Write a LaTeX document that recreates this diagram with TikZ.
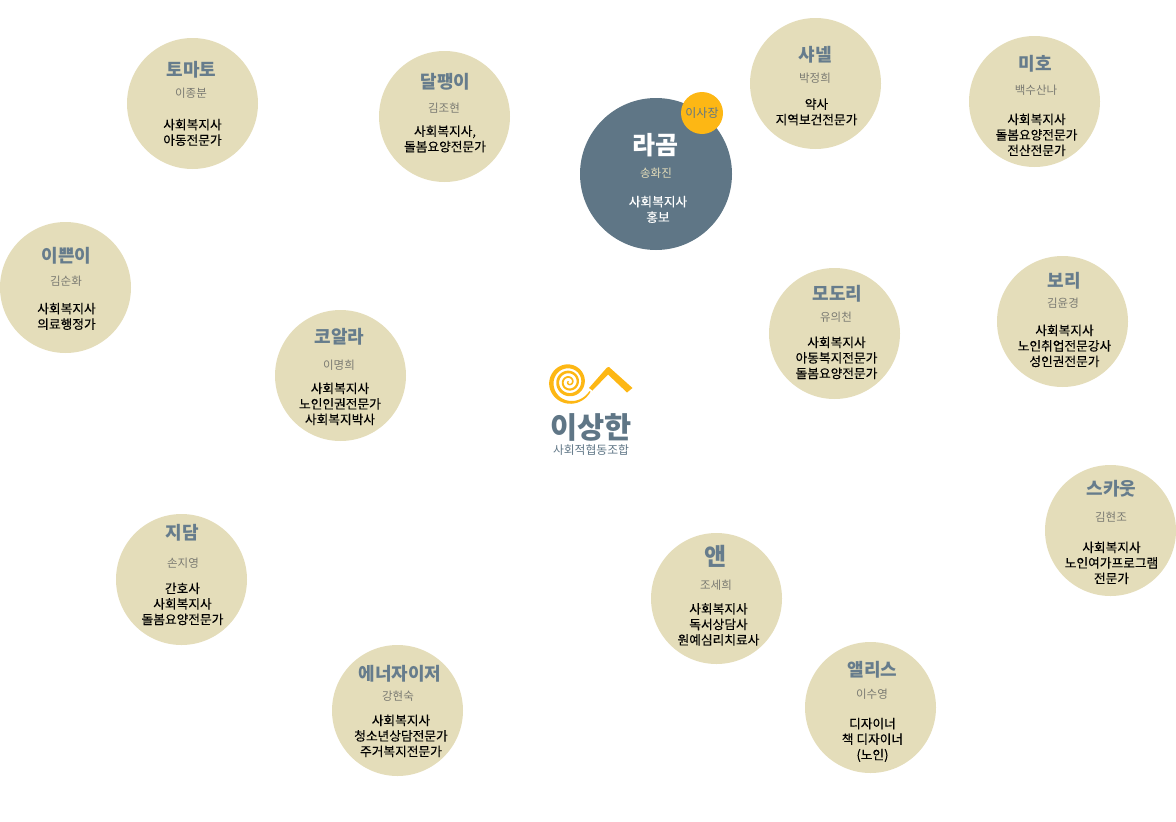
\documentclass[tikz,border=0pt]{standalone}
\usepackage{fontspec}
\setmainfont{Noto Sans CJK KR}
\newfontfamily\rolefont[FakeBold=0.25]{Noto Sans CJK KR}
\definecolor{circlefill}{HTML}{E4DDBA}
\definecolor{slate}{HTML}{5F7686}
\definecolor{nickslate}{HTML}{667C8C}
\definecolor{sunny}{HTML}{FDB714}
\definecolor{realgray}{HTML}{7A7A72}
\tikzset{
  member/.style={circle,fill=circlefill,minimum size=131pt,inner sep=0pt},
  nick/.style={text=nickslate,font=\fontsize{18}{20}\selectfont\bfseries,inner sep=0pt,xshift=1.5pt,yshift=-1pt},
  realname/.style={text=realgray,font=\fontsize{11.5}{13}\selectfont,inner sep=0pt,yshift=-1pt},
  role/.style={text=black,font=\fontsize{12.7}{15.5}\rolefont\selectfont,align=center,inner sep=0pt,yshift=-0.4pt}
}
\begin{document}
\begin{tikzpicture}[x=1pt,y=-1pt,
    declare function={sr(\t)=18.5*(\t/23)+4.5*(\t/23)^10; sa(\t)=24+(23-\t)*57.3;
      sw(\t)=(1.5+3.7*(\t/23)^2)*min(1,(1-\t/23)*7+0.25);}]
  \useasboundingbox (0,0) rectangle (1176,822);

  % Chair
  \node[circle,fill=slate,minimum size=152pt,inner sep=0pt] (lagom) at (656,174) {};
  \node[circle,fill=sunny,minimum size=42pt,inner sep=0pt] (chair) at (702,113) {};
  \node[text=slate,font=\fontsize{12}{14}\selectfont,inner sep=0pt] (chairtxt) at (702,113.5) {이사장};
  \node[nick,text=white,font=\fontsize{25}{28}\selectfont\bfseries] (lagomnick) at (654,144) {라곰};
  \node[realname,text=circlefill] (lagomreal) at (656,172) {송화진};
  \node[role,text=white] (lagomrole) at (658,209) {사회복지사\\홍보};

  % Members
  \node[member] (tomato) at (192.5,103.5) {};
  \node[nick] at (190,69) {토마토};
  \node[realname] at (191,92) {이종분};
  \node[role] at (192.5,132) {사회복지사\\아동전문가};

  \node[member] (snail) at (444.5,116.5) {};
  \node[nick] at (444,81) {달팽이};
  \node[realname] at (444,107) {김조현};
  \node[role] at (445,138.5) {사회복지사,\\돌봄요양전문가};

  \node[member] (chanel) at (815.5,83.5) {};
  \node[nick] at (814,54) {샤넬};
  \node[realname] at (815,77) {박정희};
  \node[role] at (816.5,111.5) {약사\\지역보건전문가};

  \node[member] (miho) at (1034.5,101.5) {};
  \node[nick] at (1034,63) {미호};
  \node[realname] at (1036,89) {백수산나};
  \node[role] at (1036.5,134.5) {사회복지사\\돌봄요양전문가\\전산전문가};

  \node[member] (pretty) at (65.5,287.5) {};
  \node[nick] at (65,255) {이쁜이};
  \node[realname] at (66,280) {김순화};
  \node[role] at (66.5,316) {사회복지사\\의료행정가};

  \node[member] (koala) at (340.5,375.5) {};
  \node[nick] at (338,336) {코알라};
  \node[realname] at (339,364) {이명희};
  \node[role] at (340,403.5) {사회복지사\\노인인권전문가\\사회복지박사};

  \node[member] (midori) at (834.5,333.5) {};
  \node[nick] at (836,293) {모도리};
  \node[realname] at (836,316) {유의천};
  \node[role] at (836.5,357.5) {사회복지사\\아동복지전문가\\돌봄요양전문가};

  \node[member] (bori) at (1062.5,321.5) {};
  \node[nick] at (1063,280) {보리};
  \node[realname] at (1063,302) {김윤경};
  \node[role] at (1064.5,345.5) {사회복지사\\노인취업전문강사\\성인권전문가};

  \node[member] (scout) at (1110.5,530.5) {};
  \node[nick] at (1110,488) {스카웃};
  \node[realname] at (1111,516) {김현조};
  \node[role] at (1111.5,562.5) {사회복지사\\노인여가프로그램\\전문가};

  \node[member] (jidam) at (181.5,579.5) {};
  \node[nick] at (180.5,532) {지담};
  \node[realname] at (183,562) {손지영};
  \node[role] at (182.5,603.5) {간호사\\사회복지사\\돌봄요양전문가};

  \node[member] (ann) at (716.5,598.5) {};
  \node[nick,font=\fontsize{24}{26}\selectfont\bfseries] at (714,555) {앤};
  \node[realname] at (716,584) {조세희};
  \node[role] at (718.5,624) {사회복지사\\독서상담사\\원예심리치료사};

  \node[member] (alice) at (870.5,707.5) {};
  \node[nick] at (871,669) {앨리스};
  \node[realname] at (872,693) {이수영};
  \node[role] at (872.5,739.5) {디자이너\\책 디자이너\\(노인)};

  \node[member] (energizer) at (397.5,710.5) {};
  \node[nick] at (398.5,673) {에너자이저};
  \node[realname] at (398,695) {강현숙};
  \node[role] at (401,735.5) {사회복지사\\청소년상담전문가\\주거복지전문가};

  % Logo
  \fill[sunny]
    plot[domain=0.4:23,samples=260,variable=\t] ({569+(sr(\t)+sw(\t)/2)*cos(sa(\t))},{382+(sr(\t)+sw(\t)/2)*sin(sa(\t))})
    -- plot[domain=23:0.4,samples=260,variable=\t] ({569+(sr(\t)-sw(\t)/2)*cos(sa(\t))},{382+(sr(\t)-sw(\t)/2)*sin(sa(\t))}) -- cycle;
  \fill[sunny] (589,388) -- (607,367.5) -- (609,367) -- (632.5,388) -- (627,392.5) -- (608,374.5) -- (592.5,390.5) -- cycle;
  \node[text=slate,font=\fontsize{29.5}{31}\selectfont\bfseries,inner sep=0pt] (logoname) at (591,427) {이상한};
  \node[text=slate,font=\fontsize{11.8}{14}\selectfont,inner sep=0pt] (logosub) at (591,450.5) {사회적협동조합};

\end{tikzpicture}
\end{document}
